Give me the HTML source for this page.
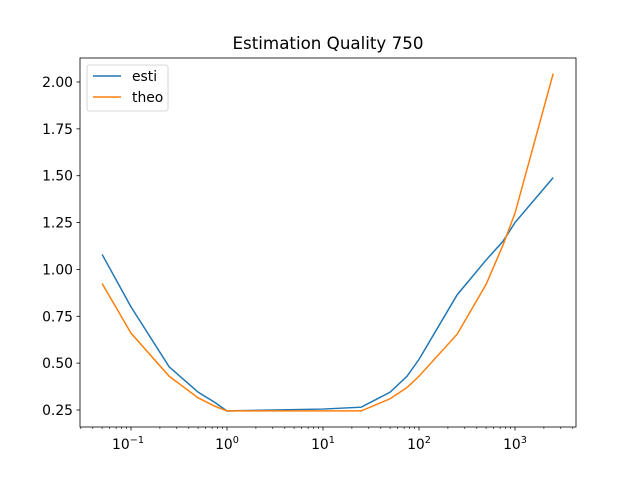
<!DOCTYPE html>
<html><head><meta charset="utf-8"><style>body{margin:0;background:#fff}svg text{font-family:"DejaVu Sans","Liberation Sans",sans-serif}</style></head>
<body>
<svg id="c" width="640" height="480"></svg>
<script>
const xs=[0.05,0.1,0.25,0.5,0.75,1,10,25,50,75,100,250,500,750,1000,2500];
const esti=[1.08,0.80,0.48,0.345,0.29,0.245,0.255,0.265,0.345,0.43,0.52,0.865,1.05,1.15,1.25,1.49];
const theo=[0.925,0.66,0.43,0.315,0.27,0.245,0.245,0.245,0.31,0.37,0.43,0.655,0.92,1.13,1.30,2.045];
const yTicks=[0.25,0.5,0.75,1.0,1.25,1.5,1.75,2.0];
const xDecades=[-1,0,1,2,3];
const L=80,R=576,T=58,B=427;
const X=v=>227+96*Math.log10(v);
const Y=v=>410-(v-0.25)*187.43;
const s=document.getElementById('c');
const ns='http://www.w3.org/2000/svg';
function mk(t,a,txt){const e=document.createElementNS(ns,t);for(const k in a)e.setAttribute(k,a[k]);if(txt!==undefined)e.textContent=txt;s.appendChild(e);return e;}
let e=mk('rect',{x:L,y:T,width:R-L,height:B-T,fill:'none',stroke:'#000','stroke-width':0.8});


yTicks.forEach(v=>{const y=Y(v);mk('line',{x1:L-3.5,x2:L,y1:y,y2:y,stroke:'#000','stroke-width':0.8});
const t=mk('text',{x:L-7,y:y+5,'text-anchor':'end','font-size':13.9},v.toFixed(2));

});
for(let d=-2;d<=3;d++)for(let m=2;m<=9;m++){const x=X(m*Math.pow(10,d));if(x>L&&x<R)mk('line',{x1:x,x2:x,y1:B,y2:B+2,stroke:'#000','stroke-width':0.6});}
xDecades.forEach(d=>{const x=X(Math.pow(10,d));mk('line',{x1:x,x2:x,y1:B,y2:B+3.5,stroke:'#000','stroke-width':0.8});
const t=mk('text',{x:x-(d<0?3:0),y:B+22,'text-anchor':'middle','font-size':13.9},'10');
const sp=document.createElementNS(ns,'tspan');sp.setAttribute('font-size',9.7);sp.setAttribute('dy',-6);sp.textContent=(d<0?'\u2212':'')+Math.abs(d);t.appendChild(sp);

});
function line(vals,c,n){const p=mk('polyline',{points:xs.map((x,i)=>X(x)+','+Y(vals[i])).join(' '),fill:'none',stroke:c,'stroke-width':1.5});

}
line(esti,'#1f77b4','esti-line');line(theo,'#ff7f0e','theo-line');
e=mk('text',{x:328,y:49,'text-anchor':'middle','font-size':16.7},'Estimation Quality 750');


e=mk('rect',{x:87,y:65,width:81,height:46,rx:2,fill:'#fff',stroke:'#ccc','stroke-width':0.8});


[['esti','#1f77b4',76],['theo','#ff7f0e',97]].forEach(([n,c,y])=>{mk('line',{x1:93,x2:121,y1:y,y2:y,stroke:c,'stroke-width':1.5});
const t=mk('text',{x:132,y:y+5,'font-size':13.9},n);

});
</script>
</body></html>
